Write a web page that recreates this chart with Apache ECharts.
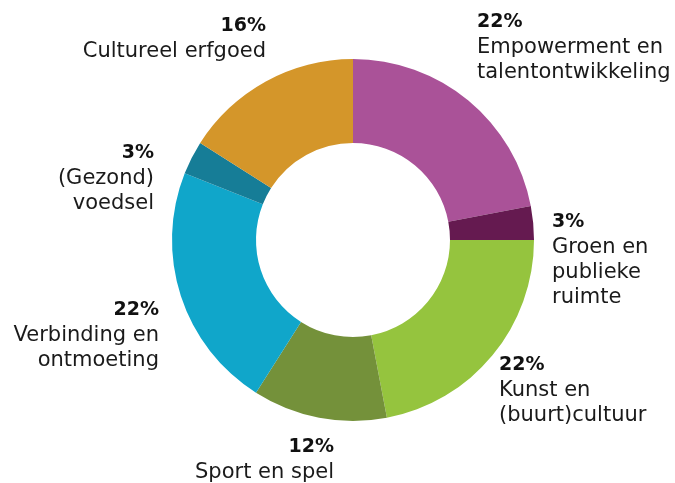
<!DOCTYPE html>
<html>
<head>
<meta charset="utf-8">
<script src="https://cdn.jsdelivr.net/npm/echarts@6/dist/echarts.min.js"></script>
<style>
  html, body { margin: 0; padding: 0; background: #fff; }
  #container { width: 675px; height: 483px; }
</style>
</head>
<body>
<div id="container"></div>
<script>
// data
var categories = ['Empowerment en\ntalentontwikkeling', 'Groen en\npublieke\nruimte', 'Kunst en\n(buurt)cultuur',
    'Sport en spel', 'Verbinding en\nontmoeting', '(Gezond)\nvoedsel', 'Cultureel erfgoed'];
var values = [22, 3, 22, 12, 22, 3, 16];
var colors = ['#AA5298', '#651A50', '#95C43E', '#74913A', '#10A6CA', '#167D97', '#D4962A'];

// label placement: [x, y, align]
var labelPos = [
    [477, 10, 'left'],
    [552, 210, 'left'],
    [499, 353, 'left'],
    [334, 435, 'right'],
    [159, 298, 'right'],
    [154, 141, 'right'],
    [266, 14, 'right']
];

var pieData = [];
categories.forEach(function(item, index) {
    pieData.push({ name: item, value: values[index], itemStyle: { color: colors[index] } });
});

var option = {
    animation: false,
    series: [{
        type: 'pie',
        center: [353, 240],
        radius: [97, 181],
        startAngle: 90,
        clockwise: true,
        data: pieData,
        labelLine: { show: false },
        label: {
            show: true,
            overflow: 'none',
            formatter: function(p) {
                return '{p|' + p.value + '%}\n{n|' + p.name.split('\n').join('}\n{n|') + '}';
            },
            rich: {
                p: { fontFamily: 'DejaVu Sans', fontSize: 19, fontWeight: 'bold', color: '#111', lineHeight: 25 },
                n: { fontFamily: 'DejaVu Sans', fontSize: 21, color: '#1a1a1a', lineHeight: 25 }
            }
        },
        labelLayout: function(params) {
            var p = labelPos[params.dataIndex];
            return { x: p[0], y: p[1], align: p[2], verticalAlign: 'top' };
        }
    }]
};

var myChart = echarts.init(document.getElementById('container'));
myChart.setOption(option);
</script>
</body>
</html>
